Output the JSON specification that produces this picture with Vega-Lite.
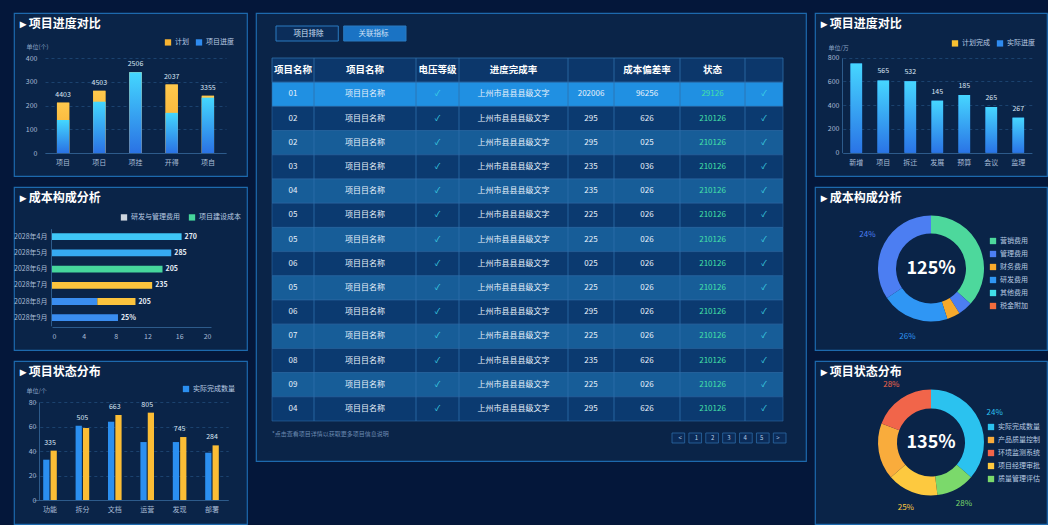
{
"$schema": "https://vega.github.io/schema/vega-lite/v6.json",
"background": "#04173a",
"padding": {"left": 12, "top": 12, "right": 0, "bottom": 0},
"config": {
  "font": "Noto Sans CJK SC",
  "view": {"fill": "#0a2448", "stroke": "#1d69ad", "strokeWidth": 1.2},
  "title": {"color": "#ffffff", "fontSize": 12, "fontWeight": "bold", "anchor": "start", "frame": "group", "offset": -18, "dx": 6, "font": "Noto Sans CJK SC"},
  "axis": {"labelColor": "#a8bcd6", "labelFontSize": 7, "domainColor": "#2d5b8b", "gridColor": "#1f4a78", "gridDash": [3, 3], "gridWidth": 0.8, "ticks": false, "titleFontSize": 6, "titleColor": "#8aa3c4", "titleFontWeight": "normal"},
  "legend": {"labelColor": "#b9cbe2", "labelFontSize": 7, "symbolType": "square", "symbolSize": 40, "orient": "none", "labelOffset": 3}
},
"datasets": {
  "rows": [
    {"k": 1, "id": "01", "name": "项目目名称", "lv": "✓", "addr": "上州市县县县级文字", "a": "202006", "b": "96256", "st": "29126", "op": "✓"},
    {"k": 2, "id": "02", "name": "项目目名称", "lv": "✓", "addr": "上州市县县县级文字", "a": "295", "b": "626", "st": "210126", "op": "✓"},
    {"k": 3, "id": "02", "name": "项目目名称", "lv": "✓", "addr": "上州市县县县级文字", "a": "295", "b": "025", "st": "210126", "op": "✓"},
    {"k": 4, "id": "03", "name": "项目目名称", "lv": "✓", "addr": "上州市县县县级文字", "a": "235", "b": "036", "st": "210126", "op": "✓"},
    {"k": 5, "id": "04", "name": "项目目名称", "lv": "✓", "addr": "上州市县县县级文字", "a": "235", "b": "026", "st": "210126", "op": "✓"},
    {"k": 6, "id": "05", "name": "项目目名称", "lv": "✓", "addr": "上州市县县县级文字", "a": "225", "b": "026", "st": "210126", "op": "✓"},
    {"k": 7, "id": "05", "name": "项目目名称", "lv": "✓", "addr": "上州市县县县级文字", "a": "225", "b": "026", "st": "210126", "op": "✓"},
    {"k": 8, "id": "06", "name": "项目目名称", "lv": "✓", "addr": "上州市县县县级文字", "a": "025", "b": "026", "st": "210126", "op": "✓"},
    {"k": 9, "id": "05", "name": "项目目名称", "lv": "✓", "addr": "上州市县县县级文字", "a": "225", "b": "026", "st": "210126", "op": "✓"},
    {"k": 10, "id": "06", "name": "项目目名称", "lv": "✓", "addr": "上州市县县县级文字", "a": "295", "b": "026", "st": "210126", "op": "✓"},
    {"k": 11, "id": "07", "name": "项目目名称", "lv": "✓", "addr": "上州市县县县级文字", "a": "225", "b": "026", "st": "210126", "op": "✓"},
    {"k": 12, "id": "08", "name": "项目目名称", "lv": "✓", "addr": "上州市县县县级文字", "a": "235", "b": "626", "st": "210126", "op": "✓"},
    {"k": 13, "id": "09", "name": "项目目名称", "lv": "✓", "addr": "上州市县县县级文字", "a": "225", "b": "026", "st": "210126", "op": "✓"},
    {"k": 14, "id": "04", "name": "项目目名称", "lv": "✓", "addr": "上州市县县县级文字", "a": "295", "b": "626", "st": "210126", "op": "✓"}
  ],
  "hdr": [
    {"k": 0, "c": 0, "t": "项目名称"}, {"k": 0, "c": 1, "t": "项目名称"}, {"k": 0, "c": 2, "t": "电压等级"}, {"k": 0, "c": 3, "t": "进度完成率"},
    {"k": 0, "c": 4, "t": ""}, {"k": 0, "c": 5, "t": "成本偏差率"}, {"k": 0, "c": 6, "t": "状态"}, {"k": 0, "c": 7, "t": ""}
  ],
  "cols": [
    {"key": "id", "c": 0}, {"key": "name", "c": 1}, {"key": "lv", "c": 2}, {"key": "addr", "c": 3},
    {"key": "a", "c": 4}, {"key": "b", "c": 5}, {"key": "st", "c": 6}, {"key": "op", "c": 7}
  ]
},
"spacing": 7,
"resolve": {"scale": {"color": "independent", "theta": "independent"}, "legend": {"color": "independent"}},
"hconcat": [
  {
    "spacing": 11,
    "bounds": "flush",
    "resolve": {"scale": {"color": "independent", "theta": "independent"}, "legend": {"color": "independent"}},
    "vconcat": [
      {
        "width": 233, "height": 163,
        "title": {"text": "▸ 项目进度对比"},
        "data": {"values": [
          {"cat": "项目", "blue": 139, "total": 212, "lab": "4403"},
          {"cat": "项日", "blue": 216, "total": 262, "lab": "4503"},
          {"cat": "项挂", "blue": 340, "total": 340, "lab": "2506"},
          {"cat": "开得", "blue": 169, "total": 288, "lab": "2037"},
          {"cat": "项自", "blue": 233, "total": 241, "lab": "3355"}
        ]},
        "encoding": {
          "x": {"field": "cat", "type": "nominal", "title": null,
                "scale": {"domain": ["项目", "项日", "项挂", "开得", "项自"], "range": [31, 212], "paddingInner": 0.66, "paddingOuter": 0.33},
                "axis": {"labelAngle": 0, "offset": -23, "labelPadding": 5}}
        },
        "layer": [
          {"mark": "bar", "encoding": {
            "y": {"field": "total", "type": "quantitative", "scale": {"domain": [0, 400], "range": [140, 45]},
                  "axis": {"title": "单位(个)", "values": [0, 100, 200, 300, 400], "offset": -26, "grid": true, "domain": false, "labelPadding": 3,
                           "titleAngle": 0, "titleAlign": "left", "titleBaseline": "bottom", "titleX": -14, "titleY": 36}},
            "color": {"datum": "计划", "scale": {"domain": ["计划", "项目进度"], "range": ["#f7b332", "#2f8bef"]},
                      "legend": {"orient": "none", "title": null, "direction": "horizontal", "legendX": 150, "legendY": 25, "columnPadding": 6}}}},
          {"mark": "bar", "encoding": {"y": {"field": "blue", "type": "quantitative"}, "color": {"datum": "项目进度"}}},
          {"mark": {"type": "bar", "color": {"gradient": "linear", "x1": 0, "y1": 0, "x2": 0, "y2": 1, "stops": [{"offset": 0, "color": "#ffc94d"}, {"offset": 1, "color": "#f5a52a"}]}},
           "encoding": {"y": {"field": "total", "type": "quantitative"}}},
          {"mark": {"type": "bar", "color": {"gradient": "linear", "x1": 0, "y1": 0, "x2": 0, "y2": 1, "stops": [{"offset": 0, "color": "#44d7ff"}, {"offset": 1, "color": "#2a72e4"}]}},
           "encoding": {"y": {"field": "blue", "type": "quantitative"}}},
          {"mark": {"type": "text", "baseline": "bottom", "dy": -5, "fontSize": 7, "color": "#dbe7f5"},
           "encoding": {"y": {"field": "total", "type": "quantitative"}, "text": {"field": "lab"}}}
        ]
      },
      {
        "width": 233, "height": 163,
        "title": {"text": "▸ 成本构成分析"},
        "data": {"values": [
          {"m": "2028年4月", "s": "人工成本", "v0": 0, "v1": 16.3, "lab": "270"},
          {"m": "2028年5月", "s": "材料成本", "v0": 0, "v1": 15.0, "lab": "285"},
          {"m": "2028年6月", "s": "项目建设成本", "v0": 0, "v1": 13.9, "lab": "205"},
          {"m": "2028年7月", "s": "设备成本", "v0": 0, "v1": 12.6, "lab": "235"},
          {"m": "2028年8月", "s": "管理成本", "v0": 0, "v1": 5.7},
          {"m": "2028年8月", "s": "设备成本", "v0": 5.7, "v1": 10.5, "lab": "205"},
          {"m": "2028年9月", "s": "管理成本", "v0": 0, "v1": 8.3, "lab": "25%"}
        ]},
        "encoding": {
          "y": {"field": "m", "type": "nominal", "title": null,
                "scale": {"domain": ["2028年4月", "2028年5月", "2028年6月", "2028年7月", "2028年8月", "2028年9月"], "range": [41.6, 138.8], "paddingInner": 0.58, "paddingOuter": 0.29},
                "axis": {"offset": -37, "labelPadding": 4, "domain": true}}
        },
        "layer": [
          {"mark": "bar", "encoding": {
            "x": {"field": "v0", "type": "quantitative", "title": null, "scale": {"domain": [0, 20], "range": [38, 197]},
                  "axis": {"values": [0, 4, 8, 12, 16, 20], "offset": -23, "grid": false, "labelPadding": 5}},
            "x2": {"field": "v1"},
            "color": {"field": "s", "type": "nominal",
                      "scale": {"domain": ["研发与管理费用", "项目建设成本", "人工成本", "材料成本", "设备成本", "管理成本"], "range": ["#cdd5df", "#46d69c", "#3ec6f6", "#36aaf2", "#fbc33d", "#3a8df0"]},
                      "legend": {"orient": "none", "title": null, "direction": "horizontal", "values": ["研发与管理费用", "项目建设成本"], "legendX": 106, "legendY": 26, "columnPadding": 8}}}},
          {"transform": [{"filter": "datum.lab"}],
           "mark": {"type": "text", "align": "left", "dx": 3, "fontSize": 7, "fontWeight": "bold", "color": "#e8eef6"},
           "encoding": {"x": {"field": "v1", "type": "quantitative", "title": null}, "text": {"field": "lab"}}}
        ]
      },
      {
        "width": 233, "height": 163,
        "title": {"text": "▸ 项目状态分布"},
        "data": {"values": [
          {"cat": "功能", "实际完成数量": 32.9, "计划完成数量": 40.3, "lab": "335"},
          {"cat": "拆分", "实际完成数量": 60.7, "计划完成数量": 58.8, "lab": "505"},
          {"cat": "文档", "实际完成数量": 63.9, "计划完成数量": 69.4, "lab": "663"},
          {"cat": "运营", "实际完成数量": 47.3, "计划完成数量": 71.3, "lab": "805"},
          {"cat": "发现", "实际完成数量": 47.3, "计划完成数量": 51.4, "lab": "745"},
          {"cat": "部署", "实际完成数量": 38.6, "计划完成数量": 44.6, "lab": "284"}
        ]},
        "encoding": {
          "x": {"field": "cat", "type": "nominal", "title": null,
                "scale": {"domain": ["功能", "拆分", "文档", "运营", "发现", "部署"], "range": [19.8, 214.2], "paddingInner": 0.58, "paddingOuter": 0.29},
                "axis": {"labelAngle": 0, "offset": -24, "labelPadding": 5}}
        },
        "layer": [
          {"transform": [{"fold": ["实际完成数量", "计划完成数量"], "as": ["s", "v"]}],
           "mark": "bar",
           "encoding": {
             "xOffset": {"field": "s", "type": "nominal", "sort": ["实际完成数量", "计划完成数量"], "scale": {"paddingInner": 0.15}},
             "y": {"field": "v", "type": "quantitative", "scale": {"domain": [0, 80], "range": [139, 41]},
                   "axis": {"title": "单位/个", "values": [0, 20, 40, 60, 80], "offset": -25, "grid": true, "domain": true, "labelPadding": 3,
                            "titleAngle": 0, "titleAlign": "left", "titleBaseline": "bottom", "titleX": -13, "titleY": 32}},
             "color": {"field": "s", "type": "nominal", "scale": {"domain": ["实际完成数量", "计划完成数量"], "range": ["#2b8ff0", "#fbbd35"]},
                       "legend": {"orient": "none", "title": null, "values": ["实际完成数量"], "legendX": 168, "legendY": 24}}}},
          {"transform": [{"fold": ["实际完成数量", "计划完成数量"], "as": ["s", "v"]}, {"aggregate": [{"op": "max", "field": "v", "as": "top"}], "groupby": ["cat", "lab"]}],
           "mark": {"type": "text", "baseline": "bottom", "dy": -5, "fontSize": 7, "color": "#dbe7f5"},
           "encoding": {"y": {"field": "top", "type": "quantitative"}, "text": {"field": "lab"}}}
        ]
      }
    ]
  },
  {
    "width": 550, "height": 448,
    "title": {"text": "*点击查看项目详情以获取更多项目信息说明", "orient": "bottom", "anchor": "start", "offset": -30, "dx": 16, "fontSize": 6, "fontWeight": "normal", "color": "#6a8ab0"},
    "resolve": {"scale": {"x": "independent", "y": "independent"}},
    "layer": [
      {"data": {"values": [{"k": 0}]},
       "mark": {"type": "rect", "fill": "#0c376b", "stroke": "#2f6ea9", "strokeWidth": 0.8},
       "encoding": {
         "y": {"field": "k", "type": "ordinal", "scale": {"domain": [0,1,2,3,4,5,6,7,8,9,10,11,12,13,14], "range": [45, 408], "paddingInner": 0, "paddingOuter": 0}, "axis": null},
         "x": {"datum": 0, "scale": {"domain": [0, 8], "range": [16, 527], "nice": false, "zero": false}, "axis": null},
         "x2": {"datum": 8}}},
      {"data": {"name": "rows"},
       "mark": {"type": "rect", "stroke": "#2d6aa6", "strokeWidth": 0.6},
       "encoding": {
         "y": {"field": "k", "type": "ordinal", "scale": {"domain": [0,1,2,3,4,5,6,7,8,9,10,11,12,13,14], "range": [45, 408], "paddingInner": 0, "paddingOuter": 0}, "axis": null},
         "x": {"datum": 0, "scale": {"domain": [0, 8], "range": [16, 527], "nice": false, "zero": false}, "axis": null},
         "x2": {"datum": 8},
         "color": {"condition": [{"test": "datum.k == 1", "value": "#2090e2"}, {"test": "datum.k % 2 == 0", "value": "#0b3a70"}], "value": "#175d98"}}},
      {"data": {"name": "cols"},
       "transform": [{"filter": "datum.c > 0"}],
       "mark": {"type": "rule", "color": "#2f70ab", "strokeWidth": 0.8},
       "encoding": {
         "x": {"field": "c", "type": "quantitative", "scale": {"domain": [0,1,2,3,4,5,6,7,8], "range": [16,58,160,203,312,358,424,489,527], "nice": false, "zero": false}, "axis": null},
         "y": {"datum": 0, "scale": {"domain": [0, 1], "range": [45, 408], "nice": false, "zero": false}, "axis": null},
         "y2": {"datum": 1}}},
      {"data": {"name": "hdr"},
       "mark": {"type": "text", "fontSize": 9.5, "fontWeight": "bold", "color": "#ffffff"},
       "encoding": {
         "x": {"field": "c", "type": "quantitative", "scale": {"domain": [0,1,2,3,4,5,6,7], "range": [37,109,181.5,257.5,335,391,456.5,508], "nice": false, "zero": false}, "axis": null},
         "y": {"field": "k", "type": "ordinal", "scale": {"domain": [0,1,2,3,4,5,6,7,8,9,10,11,12,13,14], "range": [45, 408], "paddingInner": 0, "paddingOuter": 0}, "axis": null},
         "text": {"field": "t"}}},
      {"data": {"name": "rows"},
       "transform": [
         {"fold": ["id", "name", "lv", "addr", "a", "b", "st", "op"], "as": ["key", "val"]},
         {"lookup": "key", "from": {"data": {"name": "cols"}, "key": "key", "fields": ["c"]}}
       ],
       "mark": {"type": "text", "fontSize": 8},
       "encoding": {
         "x": {"field": "c", "type": "quantitative", "scale": {"domain": [0,1,2,3,4,5,6,7], "range": [37,109,181.5,257.5,335,391,456.5,508], "nice": false, "zero": false}, "axis": null},
         "y": {"field": "k", "type": "ordinal", "scale": {"domain": [0,1,2,3,4,5,6,7,8,9,10,11,12,13,14], "range": [45, 408], "paddingInner": 0, "paddingOuter": 0}, "axis": null},
         "text": {"field": "val"},
         "color": {"condition": [{"test": "datum.key == 'st'", "value": "#45e0a8"}, {"test": "datum.key == 'lv' || datum.key == 'op'", "value": "#3fd8e6"}], "value": "#e8f1fb"}}},
      {"data": {"values": [{"t": "项目排除"}, {"t": "关联指标"}]},
       "mark": {"type": "rect", "stroke": "#2a7ac0", "strokeWidth": 1},
       "encoding": {
         "x": {"field": "t", "type": "nominal", "scale": {"domain": ["项目排除", "关联指标"], "range": [20, 150], "paddingInner": 0.08, "paddingOuter": 0}, "axis": null},
         "y": {"datum": 0, "scale": {"domain": [0, 1], "range": [13, 28], "nice": false, "zero": false}, "axis": null},
         "y2": {"datum": 1},
         "color": {"condition": {"test": "datum.t == '关联指标'", "value": "#1a73c4"}, "value": "#0b2d5a"}}},
      {"data": {"values": [{"t": "项目排除"}, {"t": "关联指标"}]},
       "mark": {"type": "text", "fontSize": 7.5, "color": "#cfe2f7"},
       "encoding": {
         "x": {"field": "t", "type": "nominal", "scale": {"domain": ["项目排除", "关联指标"], "range": [20, 150], "paddingInner": 0.08, "paddingOuter": 0}, "axis": null},
         "y": {"datum": 0.5, "scale": {"domain": [0, 1], "range": [13, 28], "nice": false, "zero": false}, "axis": null},
         "text": {"field": "t"}}},
      {"data": {"values": [{"p": "<"}, {"p": "1"}, {"p": "2"}, {"p": "3"}, {"p": "4"}, {"p": "5"}, {"p": ">"}]},
       "mark": {"type": "rect", "fill": "#0b2b58", "stroke": "#2b6aa6", "strokeWidth": 0.8},
       "encoding": {
         "x": {"field": "p", "type": "nominal", "scale": {"domain": ["<", "1", "2", "3", "4", "5", ">"], "range": [416, 530], "paddingInner": 0.25, "paddingOuter": 0}, "axis": null},
         "y": {"datum": 0, "scale": {"domain": [0, 1], "range": [420, 430], "nice": false, "zero": false}, "axis": null},
         "y2": {"datum": 1}}},
      {"data": {"values": [{"p": "<"}, {"p": "1"}, {"p": "2"}, {"p": "3"}, {"p": "4"}, {"p": "5"}, {"p": ">"}]},
       "mark": {"type": "text", "fontSize": 6, "color": "#b8cde6"},
       "encoding": {
         "x": {"field": "p", "type": "nominal", "scale": {"domain": ["<", "1", "2", "3", "4", "5", ">"], "range": [416, 530], "paddingInner": 0.25, "paddingOuter": 0}, "axis": null},
         "y": {"datum": 0.5, "scale": {"domain": [0, 1], "range": [420, 430], "nice": false, "zero": false}, "axis": null},
         "text": {"field": "p"}}}
    ]
  },
  {
    "spacing": 11,
    "bounds": "flush",
    "resolve": {"scale": {"color": "independent", "theta": "independent"}, "legend": {"color": "independent"}},
    "vconcat": [
      {
        "width": 232, "height": 163,
        "title": {"text": "▸ 项目进度对比"},
        "data": {"values": [
          {"cat": "新增", "v": 752, "lab": ""},
          {"cat": "项目", "v": 609, "lab": "565"},
          {"cat": "拆迁", "v": 601, "lab": "532"},
          {"cat": "发展", "v": 438, "lab": "145"},
          {"cat": "预算", "v": 486, "lab": "185"},
          {"cat": "会议", "v": 385, "lab": "265"},
          {"cat": "监理", "v": 295, "lab": "267"}
        ]},
        "encoding": {
          "x": {"field": "cat", "type": "nominal", "title": null,
                "scale": {"domain": ["新增", "项目", "拆迁", "发展", "预算", "会议", "监理"], "range": [27.8, 216.8], "paddingInner": 0.57, "paddingOuter": 0.285},
                "axis": {"labelAngle": 0, "offset": -23, "labelPadding": 5}}
        },
        "layer": [
          {"mark": "bar", "encoding": {
            "y": {"field": "v", "type": "quantitative", "scale": {"domain": [0, 800], "range": [139.7, 44.7]},
                  "axis": {"title": "单位/万", "values": [0, 200, 400, 600, 800], "offset": -27, "grid": true, "domain": true, "labelPadding": 3,
                           "titleAngle": 0, "titleAlign": "left", "titleBaseline": "bottom", "titleX": -14, "titleY": 37}},
            "color": {"datum": "实际进度", "scale": {"domain": ["计划完成", "实际进度"], "range": ["#f8c132", "#2f8bef"]},
                      "legend": {"orient": "none", "title": null, "direction": "horizontal", "legendX": 136, "legendY": 26, "columnPadding": 6}}}},
          {"mark": {"type": "bar", "color": {"gradient": "linear", "x1": 0, "y1": 0, "x2": 0, "y2": 1, "stops": [{"offset": 0, "color": "#46d6ff"}, {"offset": 1, "color": "#2a74e6"}]}},
           "encoding": {"y": {"field": "v", "type": "quantitative"}}},
          {"mark": {"type": "text", "baseline": "bottom", "dy": -6, "fontSize": 7, "color": "#dbe7f5"},
           "encoding": {"y": {"field": "v", "type": "quantitative"}, "text": {"field": "lab"}}}
        ]
      },
      {
        "width": 232, "height": 163,
        "view": {"fill": "#0a2448", "stroke": "#1d69ad", "strokeWidth": 1.2},
        "title": {"text": "▸ 成本构成分析"},
        "data": {"values": [
          {"k": "营销费用", "v": 36.6, "i": 1, "lab": ""},
          {"k": "管理费用", "v": 4.4, "i": 2, "lab": ""},
          {"k": "财务费用", "v": 4.0, "i": 3, "lab": ""},
          {"k": "研发费用", "v": 20.6, "i": 4, "lab": "26%"},
          {"k": "管理费用", "v": 34.4, "i": 5, "lab": "24%"}
        ]},
        "layer": [
          {"mark": {"type": "arc", "innerRadius": 35, "outerRadius": 53},
           "encoding": {
             "theta": {"field": "v", "type": "quantitative", "stack": true},
             "order": {"field": "i", "type": "quantitative"},
             "color": {"field": "k", "type": "nominal",
                       "scale": {"domain": ["营销费用", "管理费用", "财务费用", "研发费用", "其他费用", "税金附加"], "range": ["#4dd89c", "#4c7ef2", "#f7a92c", "#2f96f4", "#41dfe8", "#f36c3d"]},
                       "legend": {"orient": "none", "title": null, "legendX": 174, "legendY": 50, "rowPadding": 5}}}},
          {"mark": {"type": "text", "radius": 72, "fontSize": 8},
           "encoding": {
             "theta": {"field": "v", "type": "quantitative", "stack": true},
             "order": {"field": "i", "type": "quantitative"},
             "color": {"field": "k", "type": "nominal"},
             "text": {"field": "lab"}}},
          {"data": {"values": [{"t": "125%"}]},
           "mark": {"type": "text", "fontSize": 18, "fontWeight": "bold", "color": "#ffffff"},
           "encoding": {"text": {"field": "t"}}}
        ]
      },
      {
        "width": 232, "height": 163,
        "view": {"fill": "#0a2448", "stroke": "#1d69ad", "strokeWidth": 1.2},
        "title": {"text": "▸ 项目状态分布"},
        "data": {"values": [
          {"k": "实际完成数量", "v": 36.4, "i": 1, "lab": "24%"},
          {"k": "质量管理评估", "v": 11.7, "i": 2, "lab": "28%"},
          {"k": "项目经理审批", "v": 15.6, "i": 3, "lab": "25%"},
          {"k": "产品质量控制", "v": 17.2, "i": 4, "lab": ""},
          {"k": "环境监测系统", "v": 19.2, "i": 5, "lab": "28%"}
        ]},
        "layer": [
          {"mark": {"type": "arc", "innerRadius": 34, "outerRadius": 53},
           "encoding": {
             "theta": {"field": "v", "type": "quantitative", "stack": true},
             "order": {"field": "i", "type": "quantitative"},
             "color": {"field": "k", "type": "nominal",
                       "scale": {"domain": ["实际完成数量", "产品质量控制", "环境监测系统", "项目经理审批", "质量管理评估"], "range": ["#2bc2ef", "#f9ac3c", "#f1654a", "#fdc93f", "#7bd96b"]},
                       "legend": {"orient": "none", "title": null, "legendX": 172, "legendY": 62, "rowPadding": 5}}}},
          {"mark": {"type": "text", "radius": 70, "fontSize": 8},
           "encoding": {
             "theta": {"field": "v", "type": "quantitative", "stack": true},
             "order": {"field": "i", "type": "quantitative"},
             "color": {"field": "k", "type": "nominal"},
             "text": {"field": "lab"}}},
          {"data": {"values": [{"t": "135%"}]},
           "mark": {"type": "text", "fontSize": 18, "fontWeight": "bold", "color": "#ffffff"},
           "encoding": {"text": {"field": "t"}}}
        ]
      }
    ]
  }
]
}
